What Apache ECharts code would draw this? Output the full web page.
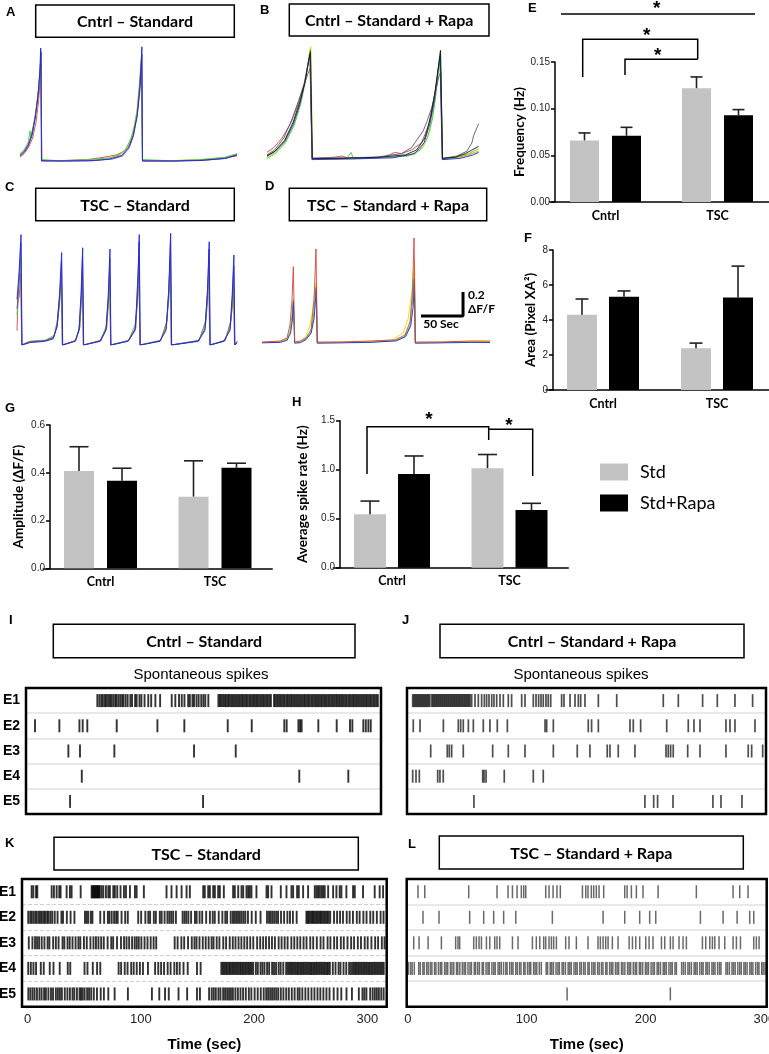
<!DOCTYPE html>
<html><head><meta charset="utf-8">
<script src="https://cdn.jsdelivr.net/npm/echarts@6/dist/echarts.min.js"></script>
<style>html,body{margin:0;padding:0;background:#fff}#c{width:769px;height:1054px}</style>
</head><body><div id="c"></div>
<script>
// ---------------- DATA ----------------
// Calcium traces [time (s), dF/F]
const A_red=[[0,0.04],[5,0.07],[10,0.12],[15,0.2],[19,0.33],[22,0.5],[24,0.68],[25,0.82],[25.8,0.01],[50,0.012],[80,0.02],[100,0.04],[115,0.06],[124,0.09],[131,0.16],[136,0.28],[140,0.46],[143,0.68],[145,0.9],[145.7,0.01],[180,0.01],[212,0.015],[240,0.03],[258,0.05]];
const A_yellow=[[0,0.05],[5,0.08],[10,0.14],[14.5,0.24],[18,0.38],[21.5,0.58],[23.5,0.72],[24.8,0.86],[25.8,0.015],[50,0.01],[85,0.015],[105,0.03],[120,0.06],[128,0.12],[134,0.23],[138.5,0.4],[142,0.62],[144.3,0.84],[145.6,0.015],[180,0.012],[215,0.02],[240,0.035],[258,0.06]];
const A_green=[[0,0.07],[4.8,0.1],[9.5,0.16],[12,0.26],[13,0.2],[14.3,0.25],[17.9,0.37],[21.4,0.55],[23.8,0.74],[25,0.9],[25.8,0.02],[47.6,0.01],[83,0.02],[107,0.035],[118,0.06],[126,0.11],[132,0.2],[136,0.3],[139.3,0.42],[142.5,0.7],[144.5,0.86],[145.6,0.02],[178.6,0.01],[214,0.02],[244,0.04],[258,0.07]];
const A_purple=[[0,0.06],[5,0.09],[10,0.15],[15,0.26],[19,0.42],[22,0.6],[24,0.78],[25.2,0.92],[25.8,0.01],[55,0.008],[90,0.012],[110,0.025],[122,0.05],[130,0.12],[135,0.22],[139.5,0.4],[142.5,0.64],[144.5,0.88],[145.6,0.01],[185,0.008],[220,0.015],[245,0.03],[258,0.06]];
const A_blue=[[0,0.05],[5,0.08],[9.5,0.13],[14.3,0.22],[18,0.36],[21.4,0.55],[23.5,0.74],[24.6,0.95],[25.5,0.01],[47.6,0.008],[83,0.01],[107,0.025],[121,0.055],[129,0.12],[134.5,0.22],[139.3,0.38],[142.9,0.62],[144.9,0.96],[145.6,0.008],[178.6,0.008],[214,0.012],[244,0.03],[258,0.06]];

const B_red=[[0,0.08],[8,0.12],[18,0.2],[28,0.32],[37,0.48],[44,0.65],[49,0.82],[51,0.88],[53.8,0.03],[80,0.04],[90,0.05],[95,0.035],[140,0.04],[152,0.08],[160,0.07],[172,0.1],[184,0.16],[192,0.3],[198,0.5],[203,0.72],[206,0.88],[208.8,0.03],[228,0.04],[240,0.06],[252,0.09]];
const B_green=[[0,0.03],[10,0.07],[22,0.16],[32,0.3],[40,0.48],[46,0.68],[50,0.88],[51.6,0.94],[53.9,0.03],[70,0.03],[95,0.03],[100,0.08],[103,0.03],[130,0.035],[168,0.05],[182,0.1],[191,0.2],[197,0.36],[201,0.56],[205,0.8],[206.8,0.92],[209,0.02],[225,0.04],[240,0.07],[252,0.11]];
const B_yellow=[[0,0.04],[10,0.08],[22,0.17],[33,0.32],[41,0.52],[47,0.74],[50.5,0.9],[52.2,0.96],[54.3,0.025],[100,0.03],[150,0.04],[175,0.06],[186,0.12],[194,0.26],[199,0.46],[203,0.7],[206.2,0.9],[209.2,0.025],[230,0.035],[245,0.07],[252,0.09]];
const B_blue=[[0,0.05],[10,0.09],[21,0.17],[31,0.31],[39,0.48],[45,0.66],[49.5,0.84],[51.3,0.9],[53.5,0.02],[100,0.025],[150,0.035],[176,0.07],[187,0.16],[194,0.32],[199.5,0.52],[203.5,0.76],[206,0.88],[208.6,0.02],[230,0.03],[246,0.06],[252,0.08]];
const B_gray=[[0,0.06],[9,0.1],[20,0.2],[30,0.36],[38,0.52],[44,0.64],[49,0.74],[51.5,0.78],[53.8,0.03],[90,0.035],[130,0.04],[160,0.07],[172,0.12],[180,0.2],[186,0.26],[190,0.33],[196,0.45],[201,0.6],[205,0.72],[207,0.75],[209,0.03],[226,0.05],[238,0.09],[244,0.16],[246,0.22],[252,0.32]];
const B_black=[[0,0.05],[9.5,0.09],[21,0.18],[31,0.33],[39,0.5],[45,0.66],[50,0.86],[51.8,0.92],[54,0.03],[87,0.03],[134,0.04],[165,0.06],[178,0.1],[188,0.2],[195,0.38],[200,0.58],[204.5,0.82],[206.5,0.93],[209,0.03],[224,0.04],[236,0.07],[244,0.1],[252,0.13]];

const C_red=[[0,0.12],[1,0.35],[3,0.42],[4.4,0.6],[5.6,0],[15,0.03],[35,0.04],[44,0.07],[48,0.2],[50,0.35],[51.5,0.36],[53,0.55],[54,0],[70,0.035],[75,0.15],[77,0.45],[78,0.6],[79,0],[100,0.035],[107,0.15],[109.5,0.42],[110.5,0.58],[111.5,0],[133,0.035],[141.5,0.14],[143,0.45],[144.5,0.46],[145.2,0.68],[146.3,0],[171,0.035],[178.5,0.2],[181,0.5],[182.5,0.72],[183.6,0],[217,0.035],[224.5,0.2],[227.4,0.5],[228.4,0.6],[229.5,0],[248,0.035],[254.5,0.2],[257,0.35],[258,0.5],[259,0],[262,0.03]];
const C_green=[[0,0.25],[2,0.45],[4.5,0.72],[5.7,0],[15,0.03],[34,0.04],[44,0.08],[48.5,0.2],[51.2,0.38],[52.9,0.6],[54,0],[70,0.04],[74.5,0.16],[76.8,0.38],[77.9,0.62],[79,0],[99.5,0.04],[106.5,0.16],[109.2,0.38],[110.4,0.6],[111.5,0],[133,0.04],[141.4,0.18],[144,0.4],[145.3,0.7],[146.4,0],[171,0.04],[178.2,0.18],[181.1,0.4],[182.7,0.72],[183.8,0],[216.5,0.04],[224.6,0.18],[227.2,0.38],[228.5,0.65],[229.6,0],[247.5,0.04],[254.4,0.18],[256.8,0.38],[258,0.6],[259.1,0],[262,0.03]];
const C_purple=[[0,0.3],[2.2,0.5],[4.6,0.85],[5.8,0],[15,0.025],[33,0.035],[43.5,0.06],[48,0.16],[51,0.4],[53,0.7],[54.2,0],[69.5,0.035],[74,0.13],[76.5,0.4],[78,0.74],[79.2,0],[99,0.035],[106,0.13],[109,0.4],[110.5,0.72],[111.7,0],[132.5,0.035],[141,0.14],[143.8,0.42],[145.4,0.86],[146.6,0],[170.5,0.035],[177.8,0.14],[180.9,0.44],[182.8,0.88],[184,0],[216,0.035],[224.2,0.14],[227,0.42],[228.7,0.8],[229.9,0],[247,0.035],[254,0.14],[256.5,0.4],[258.1,0.66],[259.3,0],[262,0.02]];
const C_blue=[[0,0.38],[2.4,0.6],[4.8,0.92],[6,0],[15.5,0.02],[33,0.03],[43,0.05],[47.6,0.15],[50.6,0.42],[53.2,0.77],[54.4,0],[69,0.03],[73.8,0.12],[76.2,0.42],[78.2,0.81],[79.4,0],[98.8,0.03],[105.9,0.12],[108.7,0.42],[110.7,0.8],[111.9,0],[132,0.03],[140.5,0.12],[143.5,0.45],[145.6,0.92],[146.8,0],[170,0.03],[177.4,0.12],[180.7,0.45],[183,0.93],[184.2,0],[215.5,0.03],[223.8,0.12],[226.8,0.45],[228.9,0.86],[230.1,0],[246,0.03],[253.6,0.12],[256.3,0.42],[258.3,0.75],[259.5,0],[262,0.02]];

const D_green=[[0,0.02],[21,0.025],[30,0.05],[33.5,0.12],[35.8,0.25],[37.3,0.38],[38.9,0.02],[45,0.025],[52,0.05],[58,0.1],[61.5,0.25],[63,0.4],[64.3,0.47],[65.8,0.02],[93,0.02],[128,0.025],[158,0.035],[170,0.07],[176,0.16],[179,0.35],[181,0.6],[182.5,0.02],[212,0.02],[248,0.025],[271,0.025]];
const D_yellow=[[0,0.02],[22,0.03],[30,0.055],[34,0.12],[36,0.22],[37.4,0.3],[38.9,0.02],[46,0.03],[52,0.07],[57,0.16],[60.5,0.3],[63,0.45],[64.4,0.52],[65.8,0.02],[95,0.025],[130,0.03],[156,0.045],[168,0.1],[174,0.22],[178,0.42],[180.6,0.62],[181.6,0.7],[182.5,0.02],[215,0.025],[250,0.03],[271.4,0.03]];
const D_blue=[[0,0.018],[22,0.022],[30,0.04],[34,0.1],[36,0.2],[37.4,0.36],[38.9,0.015],[46,0.02],[52.5,0.045],[58.5,0.1],[62,0.22],[63.8,0.38],[64.6,0.48],[65.8,0.015],[95,0.018],[130,0.022],[160,0.035],[171,0.07],[177,0.16],[180,0.32],[181.4,0.55],[182.5,0.015],[215,0.018],[250,0.022],[271.4,0.02]];
const D_red=[[0,0.025],[21.4,0.033],[29.8,0.058],[33.3,0.167],[35.7,0.375],[37.3,0.653],[38.9,0.025],[45.2,0.033],[52.4,0.058],[58.3,0.125],[61.9,0.375],[64.3,0.8],[65.8,0.025],[92.9,0.025],[128.6,0.033],[158.3,0.042],[170.2,0.083],[176.2,0.192],[179.2,0.458],[181,0.892],[182.5,0.025],[211.9,0.025],[247.6,0.033],[271.4,0.033]];

// Scale bar (50 s, 0.2 dF/F)
const scaleBarSec=50, scaleBarDF=0.2;

// Bar charts
const groups=['Cntrl','TSC'];
const freqStd=[0.066,0.122], freqStdSem=[0.008,0.012];
const freqRapa=[0.071,0.093], freqRapaSem=[0.009,0.006];
const areaStd=[4.3,2.38], areaStdSem=[0.9,0.3];
const areaRapa=[5.33,5.28], areaRapaSem=[0.33,1.8];
const ampStd=[0.407,0.300], ampStdSem=[0.102,0.150];
const ampRapa=[0.367,0.421], ampRapaSem=[0.052,0.019];
const rateStd=[0.545,1.015], rateStdSem=[0.135,0.14];
const rateRapa=[0.955,0.589], rateRapaSem=[0.185,0.068];

// Spike rasters: spike times (s) per electrode
const electrodes=['E1','E2','E3','E4','E5'];
const timeTicks=[0,100,200,300];
const I_E1=[58.3,60.1,61.8,63.2,64.9,66.1,67.8,69.4,70.6,72.3,74.1,75.2,76.9,78.6,80.3,81.5,83.4,85.2,87.6,89.1,91.8,93.2,95.7,97.4,100.2,103.5,106.1,109.8,114,124.3,127.5,130.8,133.2,135.6,138.9,140.4,142.7,144.1,146.3,148.2,150.5,152.4,154.1,156.8,165.7,167.1,168.3,169.8,171.2,172.4,173.9,175.1,176.6,177.9,179.3,180.6,182.1,183.4,184.8,186.2,187.5,188.9,190.3,191.6,193.1,194.4,195.8,197.2,198.5,199.9,201.2,202.7,204.1,205.4,206.8,208.2,209.5,210.9,212.3,215.1,216.4,217.8,219.2,220.5,221.9,223.3,224.6,226.1,227.4,228.8,230.2,231.5,232.9,234.3,235.6,237.1,238.4,239.8,241.2,242.5,243.9,245.3,246.6,248.1,249.4,250.8,252.2,253.5,254.9,256.3,257.6,259.1,260.4,261.8,263.2,264.5,265.9,267.3,268.6,270.1,271.4,272.8,274.2,275.5,276.9,278.3,279.6,281.1,282.4,283.8,285.2,286.5,287.9,289.3,290.6,292.1,293.4,294.8,296.2,297.5,298.9,300.3,301.6,303.1,304.4,305.8,307.2];
const I_E2=[3.0,24.6,42.4,45.3,49.4,75.5,111.6,135.5,174,195.3,224.2,226.3,236.7,238.2,239.6,254.4,270.7,282.5,284.6,294.3,296.5,298.8,300.9];
const I_E3=[32.6,42.9,73.4,144.1,181.1];
const I_E4=[44.5,237.5,281.0];
const I_E5=[34.1,152.1];

const J_E1=[4.8,5.7,6.5,7.4,8.2,9.1,9.9,10.8,11.6,12.5,13.3,14.2,15.0,15.9,16.7,17.6,18.4,19.3,21.0,21.8,22.7,23.5,24.4,25.2,26.1,26.9,27.8,28.6,29.5,30.3,31.2,32.0,32.9,33.7,34.6,35.4,36.3,37.1,38.0,38.8,39.7,40.5,41.4,42.2,43.1,43.9,44.8,45.6,46.5,47.3,48.2,49.0,49.9,50.7,51.6,52.4,53.2,54.6,57.4,60.2,63.0,65.3,67.2,69.2,71.5,73.4,75.7,78.5,81.3,85.5,88.3,96.8,99.6,106.6,108.9,111.1,113.1,115.0,117.3,119.2,121.3,130.5,132.5,137.6,141.8,144.6,146.6,150.2,161.5,177,216.3,229,249.5,261.9,276.8,291.7];
const J_E2=[5.3,11,30.7,43.3,45.3,47.5,51.8,56,64.4,70,76.2,84.7,116.5,117.9,123.5,153,155.8,161.5,188.2,191,197.2,219.2,237.4,242.2,247.3,269.2,272.6,276.8,293.7];
const J_E3=[20,34,35.7,37.7,47.5,72.3,85.5,99.6,123.5,143.7,154.4,169,171.3,178.3,192.4,218.6,220.5,222.5,224.7,236.9,247.3,269.2,288,290.9,300.2];
const J_E4=[4.8,7.6,10.4,25.9,27.8,30.6,63.9,65,66.7,82.1,106.6,115];
const J_E5=[56.5,200.8,208.2,211.5,224.5,258.2,265,282.7];

const K_E1=[3.5,5,7.4,8.5,21.2,23.2,25.6,27.9,29.1,34.4,37.3,38.8,46.8,56.5,57.3,58.1,58.9,59.7,60.5,61.3,62.1,62.9,63.7,65.3,66.8,69.1,71.2,72.6,75.6,77,79.1,82,85,86.8,90.3,94.7,96.2,102.6,122.6,127,131.5,135.9,140.3,143.2,155,156.4,159.4,160.9,163.8,165.3,168.2,169.7,173.2,181.4,182.9,185.9,188.8,190.3,193.2,194.7,196.1,197.6,202,210.9,212.3,215.3,223.5,228.5,232.9,234.4,237.9,239.4,243.2,247.6,253.5,255,256.4,257.9,259.4,260.8,262.3,265.3,269.7,272.6,275.5,277,281.4,287.3,288.8,296.1,306.4,310.8,313.8];
const K_E2=[0.5,2.3,3.6,5.2,6.8,8.1,9.9,11.2,12.6,14.3,15.5,17.2,18.4,20.1,21.7,23.9,26.4,29.8,31.2,34.6,37.9,41.3,50.6,52.1,53.5,55.8,57.2,64.1,67.5,70.8,72.2,74.2,76.3,78.1,79.5,82.9,86.1,88.4,97.6,100.2,103.9,106.5,108.1,111.4,113.2,116.7,118.3,120.9,123.4,125.1,126.8,128.5,130.9,136.8,138.5,140.1,141.9,144.3,147.7,149.2,151.8,154.1,157.6,160.9,163.4,165.2,168.7,171.9,174.5,176.1,179.3,181.2,182.6,184.1,185.7,187.3,188.9,190.6,192.2,194.5,197.8,201.4,205.6,211.3,213.1,214.6,216.2,217.8,219.5,221.1,223.7,226.4,229.3,231.6,234.2,237.5,246.1,247.2,248.3,249.6,250.8,251.9,253.1,254.4,255.6,256.8,258.1,259.2,260.5,261.8,263.1,264.4,265.6,267.1,270.5,273.2,275.8,278.4,281.7,284.3,287.2,290.6,293.1,296.4,299.2,302.5,305.1,308.3,311.6,314.2];
const K_E3=[1,4.2,6.5,8.3,10.1,12.4,14.8,17.6,19.2,22.5,24.9,27.3,30.8,32.4,35.2,37.1,39.6,42.3,44.8,46.5,49.7,52.2,55.4,58.1,60.3,62.5,64.9,67.2,70.6,73.8,75.5,78.9,82.4,85.1,87.3,89.6,92.2,94.5,96.3,98.1,100.4,103.2,105.8,108.6,111.2,113.5,129.8,132.4,135.7,138.2,141.6,144.9,147.3,149.1,151.7,154.6,157.2,159.8,162.4,164.1,166.9,169.3,172.7,175.2,178.4,181.1,183.5,186.2,188.7,191.3,193.8,196.5,199.2,202.6,205.3,207.9,210.4,213.1,215.7,218.3,221.6,224.2,226.9,229.5,232.8,235.4,238.1,240.7,243.6,246.2,249.5,252.1,255.3,258.6,261.2,264.8,267.3,270.6,273.2,276.5,279.1,282.4,285.6,288.2,291.5,294.3,297.6,300.2,303.5,306.8,309.4,312.7,315.1];
const K_E4=[0.5,2.8,5.1,7.4,11.6,14.2,19.5,22.8,28.3,35.4,37.6,50.2,52.8,57.5,61.3,64.1,80.3,82.5,85.7,88.2,91.4,93.6,96.3,99.1,101.8,106.2,112.5,115.3,117.8,120.4,123.6,126.2,129.5,131.8,134.2,137.6,141.3,149.5,152.7,171,172.3,173.5,174.8,176,177.4,178.6,179.9,181.2,182.5,183.7,185,186.3,187.6,188.8,190.1,191.4,192.7,194,195.3,196.5,197.8,199.1,201.5,203.2,205.6,207.3,209.1,211.4,213.2,215.8,217.5,219.3,221.6,223.4,225.7,228.2,229.8,231.1,232.4,233.6,234.9,236.2,237.5,238.7,240,241.3,242.6,243.8,245.1,246.4,247.7,249,250.2,251.5,252.8,254.1,255.3,256.6,257.9,259.2,260.4,261.7,263,264.3,265.5,266.8,269.4,271.8,274.5,276.2,278.9,281.3,283.8,285.5,287.2,288.5,289.8,291.1,292.4,293.7,295,296.3,297.5,298.8,300.1,301.4,302.7,304,305.3,306.6,307.9,309.2,310.5,311.8,313.1,314.4];
const K_E5=[0.6,2.4,4.3,6.1,8.2,10.4,12.3,14.5,16.1,18.3,20.6,22.4,24.9,26.7,28.5,30.2,32.8,35.1,37.3,39.6,41.2,43.5,45.8,47.1,48.6,50.3,52.5,54.2,56.1,58.4,61.2,64.5,67.3,71.2,76.8,88.5,109.7,116.2,121.3,124.6,133.2,140.8,149.5,152.1,160.2,162.5,164.3,166.1,168.4,170.2,172.6,174.3,176.1,177.8,179.5,181.2,183.4,185.6,187.9,190.2,192.6,195.3,197.5,200.4,203.1,205.8,208.4,210.6,212.3,214.1,215.8,217.6,219.4,221.2,223.5,225.8,228.3,230.6,233.2,235.7,238.4,240.1,242.5,245.2,247.8,250.6,253.2,255.9,258.4,261.1,263.8,266.5,270.2,273.6,276.9,281.5,286.3,292.4,295.6,297.3,299.1,302.4,304.6,306.5,308.3,310.1,312.2,314.3];

const L_E1=[8.5,14.2,51.2,75.0,84.3,88.0,91.9,95.5,97.5,99.2,116.0,118.8,122.2,125.5,128.3,146.9,149.7,151.6,154.4,156.4,158.6,160.9,164.8,182.5,184.5,188.1,192.3,197.9,210.6,242.8,273.7,279.3,286.3];
const L_E2=[12.7,26.2,52.0,63.8,72.2,80.6,90.8,121.6,164.3,182.5,195.1,203.5,208.6,246.2,265.3,277.1,287.7,291.1];
const L_E3=[4.9,9.4,17.0,28.2,40.2,42.2,43.6,55.4,57.6,59.9,61.9,66.1,68.9,73.1,75.0,77.3,88.0,92.7,104.8,108.1,111.0,114.3,116.0,118.8,120.8,122.7,125.0,132.8,135.6,141.8,151.6,160.0,162.0,164.3,166.5,168.5,172.1,176.9,186.2,189.0,191.8,195.1,200.2,203.0,206.3,213.4,216.2,220.9,223.2,228.2,231.6,234.4,247.9,250.7,254.1,256.3,258.3,261.9,266.7,273.7,276.5,279.9,291.1,293.3,295.6];
const L_E4=[0.5,2.3,3.6,5.4,9.1,10.4,12.6,13.7,15.8,17.1,18.9,20.2,22.4,23.6,25.7,27.3,28.5,30.9,32.2,33.5,35.8,37.1,38.6,40.9,42.0,43.7,45.8,47.3,48.5,50.6,52.3,53.5,55.9,57.0,58.8,60.2,62.5,63.6,65.8,67.4,68.5,70.7,72.3,73.5,75.9,77.2,78.6,80.5,82.4,83.5,85.7,87.3,88.5,90.8,92.0,93.9,95.2,97.5,98.6,100.7,102.2,103.4,105.8,107.1,108.5,110.6,112.3,116.4,117.6,119.8,121.1,122.5,124.7,126.3,127.5,129.8,131.0,132.6,134.9,136.2,137.5,139.8,141.3,142.5,144.7,146.0,147.9,149.2,151.5,152.6,154.8,156.3,157.5,159.7,161.0,162.9,164.2,166.5,167.6,169.8,171.2,172.5,174.7,176.1,177.4,179.8,181.0,182.6,184.9,186.2,187.5,189.7,191.3,192.5,194.8,196.0,197.6,199.9,201.2,202.5,204.7,206.3,207.5,209.8,211.0,212.6,214.9,216.2,217.5,219.7,221.3,222.5,224.8,226.0,230.4,231.9,233.5,235.7,237.0,238.6,240.9,242.2,243.5,245.7,247.3,248.5,250.8,252.0,253.6,255.9,257.2,258.5,260.7,262.3,263.5,267.7,269.0,270.6,272.8,274.1,275.5,277.7,279.3,280.6,282.8,284.0,285.5,287.8,289.1,290.4,292.7,294.3,295.5,297.8,299.0,300.6];
const L_E5=[134.0,220.9];

// ---------------- CHART ----------------
const chart=echarts.init(document.getElementById('c'),null,{renderer:'canvas'});
const ARIAL='Liberation Sans', CAL='Lato';
const grids=[], xAxes=[], yAxes=[], series=[], G=[];
function addGrid(g){g.outerBoundsMode='none';g.containLabel=false;grids.push(g);return grids.length-1;}

// ---- trace panels ----
function tracePanel(g, xmax, ymax, lines){
  const gi=addGrid(Object.assign({show:false},g));
  xAxes.push({gridIndex:gi,type:'value',min:0,max:xmax,show:false});
  yAxes.push({gridIndex:gi,type:'value',min:0,max:ymax,show:false});
  lines.forEach(([d,c])=>series.push({type:'line',xAxisIndex:gi,yAxisIndex:gi,data:d,showSymbol:false,symbol:'none',
    lineStyle:{width:1,color:c,opacity:0.9},silent:true}));
  return gi;
}
const GREEN='#38d438',YEL='#e3e000',RED='#d9443c',PUR='#7a3c9e',BLUE='#1a28e6',BLK='#1a1a1a',GRY='#5a5a6a';
tracePanel({left:20,top:42,width:217,height:120},258,1.0,[[A_red,RED],[A_yellow,YEL],[A_green,GREEN],[A_purple,PUR],[A_blue,BLUE]]);
tracePanel({left:267,top:42,width:212,height:120},252.4,1.0,[[B_red,RED],[B_yellow,YEL],[B_green,GREEN],[B_blue,BLUE],[B_gray,GRY],[B_black,BLK]]);
tracePanel({left:17,top:228,width:220,height:117},262,0.975,[[C_red,RED],[C_green,GREEN],[C_purple,PUR],[C_blue,BLUE]]);
const dIdx=tracePanel({left:262,top:225,width:228,height:120},271.4,1.0,[[D_green,GREEN],[D_yellow,YEL],[D_blue,BLUE],[D_red,RED]]);
// scale bar in D's data coordinates
const sbT=189.3, sbV=0.242;
series.push({type:'line',xAxisIndex:dIdx,yAxisIndex:dIdx,showSymbol:false,symbol:'none',clip:false,silent:true,
  data:[[sbT,sbV],[sbT+scaleBarSec,sbV],[sbT+scaleBarSec,sbV+scaleBarDF]],lineStyle:{width:3,color:'#000'}});

// ---- bar panels ----
function errRender(off,cap){
  return function(params,api){
    const i=api.value(0),m=api.value(1),e=api.value(2);
    const p0=api.coord([i,m]),p1=api.coord([i,m+e]);
    const x=p0[0]+off;
    return {type:'group',children:[
      {type:'line',shape:{x1:x,y1:p0[1],x2:x,y2:p1[1]},style:{stroke:'#222',lineWidth:1.6}},
      {type:'line',shape:{x1:x-cap/2,y1:p1[1],x2:x+cap/2,y2:p1[1]},style:{stroke:'#222',lineWidth:1.6}}
    ]};
  };
}
function barPanel(g,yopt,name,nameGap,offset,std,stdSem,rapa,rapaSem,bw,gapPx,cap){
  const gi=addGrid(Object.assign({show:false},g));
  xAxes.push({gridIndex:gi,type:'category',data:groups,
    axisLine:{lineStyle:{color:'#000',width:1.5}},
    axisTick:{alignWithLabel:true,length:4,lineStyle:{color:'#000',width:1.5}},
    axisLabel:{fontFamily:CAL,fontWeight:'bold',fontSize:12.5,color:'#000',margin:7}});
  yAxes.push(Object.assign({gridIndex:gi,type:'value',min:0,offset:offset,
    axisLine:{show:true,lineStyle:{color:'#000',width:1.5}},
    axisTick:{show:true,length:4,lineStyle:{color:'#000',width:1.5}},
    splitLine:{show:false},
    name:name,nameLocation:'middle',nameGap:nameGap,
    nameTextStyle:{fontFamily:CAL,fontWeight:'bold',fontSize:13.5,color:'#000'}},yopt));
  const gapPct=(gapPx/bw*100)+'%';
  series.push({type:'bar',name:'Std',xAxisIndex:gi,yAxisIndex:gi,data:std,barWidth:bw,barGap:gapPct,
    itemStyle:{color:'#c3c3c3'},silent:true});
  series.push({type:'bar',name:'Std+Rapa',xAxisIndex:gi,yAxisIndex:gi,data:rapa,barWidth:bw,barGap:gapPct,
    itemStyle:{color:'#000'},silent:true});
  const off=(bw+gapPx)/2;
  series.push({type:'custom',xAxisIndex:gi,yAxisIndex:gi,z:5,silent:true,renderItem:errRender(-off,cap),
    data:std.map((v,i)=>[i,v,stdSem[i]]),encode:{x:0,y:1}});
  series.push({type:'custom',xAxisIndex:gi,yAxisIndex:gi,z:5,silent:true,renderItem:errRender(off,cap),
    data:rapa.map((v,i)=>[i,v,rapaSem[i]]),encode:{x:0,y:1}});
}
const tickLbl={fontFamily:ARIAL,fontSize:10,color:'#222',margin:5};
barPanel({left:549.5,top:62,width:224,height:140},
  {max:0.15,interval:0.05,axisLabel:Object.assign({formatter:v=>v.toFixed(2)},tickLbl)},
  'Frequency (Hz)',21,-5.5,freqStd,freqStdSem,freqRapa,freqRapaSem,29,13,12);
barPanel({left:546,top:250,width:228,height:140},
  {max:8,interval:2,axisLabel:Object.assign({formatter:v=>String(v)},tickLbl)},
  'Area (Pixel XA²)',15,-7,areaStd,areaStdSem,areaRapa,areaRapaSem,30,12,13);
barPanel({left:43.25,top:425,width:229,height:143.3},
  {max:0.6,interval:0.2,axisLabel:Object.assign({formatter:v=>v.toFixed(1)},tickLbl)},
  'Amplitude (ΔF/F)',24,-6.75,ampStd,ampStdSem,ampRapa,ampRapaSem,30,13,19);
barPanel({left:333.25,top:420.7,width:235,height:147},
  {max:1.5,interval:0.5,axisLabel:Object.assign({formatter:v=>v.toFixed(1)},tickLbl)},
  'Average spike rate (Hz)',30,-6.75,rateStd,rateStdSem,rateRapa,rateRapaSem,32,12,19);

// ---- raster panels ----
function rasterPanel(g,xmin,xmax,rows,color,showRowLabels,showTime,dashed,sw){
  const gi=addGrid(Object.assign({show:false},g));
  xAxes.push({gridIndex:gi,type:'value',min:xmin,max:xmax,
    axisLine:{show:false},axisTick:{show:false},splitLine:{show:false},
    axisLabel:{show:showTime,customValues:timeTicks,fontFamily:ARIAL,fontSize:13,color:'#222',margin:6,hideOverlap:false,showMinLabel:true,showMaxLabel:true},
    name:showTime?'Time (sec)':'',nameLocation:'middle',nameGap:31,
    nameTextStyle:{fontFamily:ARIAL,fontWeight:'bold',fontSize:15,color:'#000'}});
  yAxes.push({gridIndex:gi,type:'category',data:electrodes,inverse:true,
    axisLine:{show:false},axisTick:{show:false},
    axisLabel:{show:showRowLabels,fontFamily:ARIAL,fontWeight:'bold',fontSize:14,color:'#000',margin:6},
    splitLine:{show:true,interval:0,lineStyle:{color:dashed?'#cfcfcf':'#e2e2e2',width:dashed?1:1.5,type:dashed?'dashed':'solid'}}});
  const pts=[];
  rows.forEach((r,ri)=>r.forEach(t=>pts.push([t,ri])));
  series.push({type:'scatter',xAxisIndex:gi,yAxisIndex:gi,data:pts,symbol:'rect',symbolSize:[sw,13],
    itemStyle:{color:color},silent:true,clip:true});
  // frame around the raster
  G.push({type:'rect',shape:{x:g.left,y:g.top,width:g.width,height:g.height},style:{fill:null,stroke:'#000',lineWidth:2.5},z:12});
}
rasterPanel({left:26,top:688,width:355,height:126},-5,310,[I_E1,I_E2,I_E3,I_E4,I_E5],'#000',true,false,false,1.9);
rasterPanel({left:407,top:688,width:359,height:126},0,303,[J_E1,J_E2,J_E3,J_E4,J_E5],'#222',false,false,false,1.7);
rasterPanel({left:22,top:879,width:364.7,height:127.7},-5,317,[K_E1,K_E2,K_E3,K_E4,K_E5],'#000',true,true,true,1.9);
rasterPanel({left:406.7,top:879,width:360,height:127.7},-1,302,[L_E1,L_E2,L_E3,L_E4,L_E5],'#444',false,true,false,1.5);

// ---- graphics: boxes, letters, brackets ----
function box(x,y,w,h,t){
  G.push({type:'rect',shape:{x:x,y:y,width:w,height:h},style:{fill:'#fff',stroke:'#000',lineWidth:1.5},z:10});
  G.push({type:'text',x:x+w/2,y:y+h/2+1,style:{text:t,fontFamily:CAL,fontWeight:'bold',fontSize:16,fill:'#000',align:'center',verticalAlign:'middle'},z:11});
}
box(35.7,5,198.6,32.3,'Cntrl – Standard');
box(289.3,4,199.7,32,'Cntrl – Standard + Rapa');
box(35.7,188.3,198.6,32.4,'TSC – Standard');
box(289.3,188.3,197.4,32.4,'TSC – Standard + Rapa');
box(53.3,624.3,301.7,33.4,'Cntrl – Standard');
box(440,624.3,304,33.4,'Cntrl – Standard + Rapa');
box(54,837.3,304.3,32.7,'TSC – Standard');
box(439.3,836,304,33,'TSC – Standard + Rapa');
function letter(t,x,y){G.push({type:'text',x:x,y:y,style:{text:t,fontFamily:ARIAL,fontWeight:'bold',fontSize:13,fill:'#000',align:'left',verticalAlign:'middle'},z:11});}
letter('A',6,12);letter('B',260,10.5);letter('C',5,187);letter('D',265,186.5);
letter('E',528,8.5);letter('F',524,238);letter('G',5,408.5);letter('H',292,402);
letter('I',9,620.5);letter('J',402,620.5);letter('K',5,843);letter('L',408,844);
function txt(t,x,y,size,weight,fam,align){G.push({type:'text',x:x,y:y,style:{text:t,fontFamily:fam,fontWeight:weight,fontSize:size,fill:'#000',align:align||'center',verticalAlign:'middle'},z:11});}
txt('Spontaneous spikes',201,675,15,'normal',ARIAL);
txt('Spontaneous spikes',581,675,15,'normal',ARIAL);
txt('0.2',468,295,12,'bold',CAL,'left');
txt('ΔF/F',468,309,12,'bold',CAL,'left');
txt('50 Sec',441,324.5,12,'bold',CAL);
function pl(pts){G.push({type:'polyline',shape:{points:pts},style:{stroke:'#000',lineWidth:1.5,fill:null},z:11});}
function star(x,y){G.push({type:'text',x:x,y:y+4,style:{text:'*',fontFamily:ARIAL,fontWeight:'bold',fontSize:19,fill:'#000',align:'center',verticalAlign:'middle'},z:11});}
pl([[561,14],[755,14]]);star(656.7,5);
pl([[582.7,77],[582.7,39.3],[697.7,39.3],[697.7,59.3]]);star(646.7,31.7);
pl([[625,75],[625,59.3],[697.7,59.3]]);star(657.7,51.7);
pl([[367,474],[367,426.7],[488.7,426.7],[488.7,440]]);star(429,416);
pl([[488.7,429.3],[532.7,429.3],[532.7,476]]);star(509,421.7);

chart.setOption({
  animation:false,
  backgroundColor:'#fff',
  grid:grids,xAxis:xAxes,yAxis:yAxes,series:series,
  legend:{data:[{name:'Std',icon:'rect'},{name:'Std+Rapa',icon:'rect'}],orient:'vertical',left:600,top:463,padding:0,
    itemWidth:28,itemHeight:17,itemGap:13,selectedMode:false,
    textStyle:{fontFamily:CAL,fontSize:18,color:'#000',padding:[0,0,0,7]}},
  graphic:G
});
</script></body></html>
